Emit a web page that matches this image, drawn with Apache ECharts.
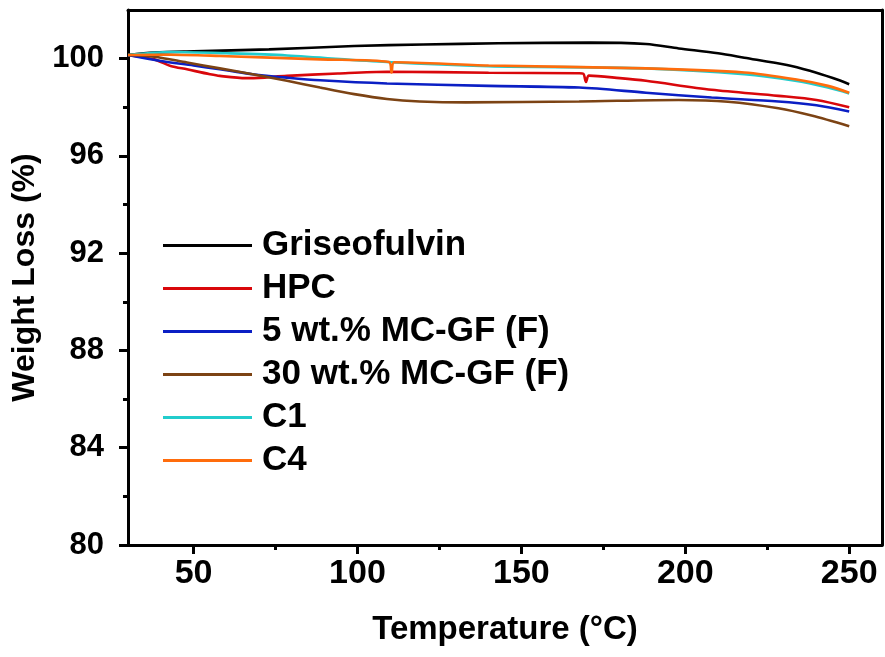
<!DOCTYPE html>
<html>
<head>
<meta charset="utf-8">
<script src="https://cdn.jsdelivr.net/npm/echarts@6/dist/echarts.min.js"></script>
<style>html,body{margin:0;padding:0;background:#fff}#c{width:885px;height:657px}</style>
</head>
<body>
<div id="c"></div>
<script>
var seriesNames = ['Griseofulvin', 'HPC', '5 wt.% MC-GF (F)', '30 wt.% MC-GF (F)', 'C1', 'C4'];
var seriesColors = ['#000000', '#d9070b', '#0b1fc4', '#7c4314', '#22cccc', '#ff6c0c'];

var tGris = [30, 38, 50, 73, 99, 120, 143, 171, 188, 198, 210, 218, 231, 238, 245, 250];
var wGris = [100.15, 100.25, 100.3, 100.38, 100.52, 100.58, 100.63, 100.66, 100.6, 100.42, 100.22, 100.04, 99.74, 99.5, 99.2, 98.95];

var tHPC = [30, 38, 43, 48, 55, 58, 66, 70, 78.5, 94, 109, 140, 167.6, 168.9, 169.7, 170.6, 180, 188, 208, 228.4, 240, 250];
var wHPC = [100.15, 99.97, 99.7, 99.56, 99.36, 99.29, 99.2, 99.21, 99.29, 99.39, 99.46, 99.42, 99.4, 99.38, 99.04, 99.3, 99.2, 99.09, 98.72, 98.47, 98.3, 98.0];

var t5 = [30, 40, 50, 58, 61, 68, 78.5, 88.6, 109, 140, 167.6, 188, 208, 228.4, 240, 250];
var w5 = [100.15, 99.9, 99.72, 99.56, 99.5, 99.36, 99.22, 99.11, 98.98, 98.88, 98.81, 98.6, 98.4, 98.24, 98.08, 97.83];

var t30 = [30, 38, 48, 58, 68, 78.5, 88.6, 99, 109, 119, 133, 167.6, 198, 213, 228.4, 238.5, 250];
var w30 = [100.15, 100.08, 99.84, 99.6, 99.36, 99.09, 98.81, 98.54, 98.34, 98.24, 98.2, 98.24, 98.3, 98.23, 97.96, 97.66, 97.22];

var tC1 = [30, 43, 60, 78.5, 109, 140, 188, 218, 233.5, 243.5, 250];
var wC1 = [100.15, 100.27, 100.22, 100.13, 99.86, 99.69, 99.6, 99.36, 99.09, 98.81, 98.57];

var tC4 = [30, 43, 58, 88.6, 109.6, 110.4, 111.2, 140, 188, 218, 233.5, 243.5, 250];
var wC4 = [100.15, 100.16, 100.11, 99.97, 99.86, 99.43, 99.85, 99.72, 99.6, 99.43, 99.15, 98.88, 98.6];

var xTicks = [50, 100, 150, 200, 250];
var xMinorTicks = [75, 125, 175, 225];
var yTicks = [80, 84, 88, 92, 96, 100];
var yMinorTicks = [82, 86, 90, 94, 98];

function pairs(t, w) { return t.map(function (v, i) { return [v, w[i]]; }); }
var allData = [pairs(tGris, wGris), pairs(tHPC, wHPC), pairs(t5, w5), pairs(t30, w30), pairs(tC1, wC1), pairs(tC4, wC4)];

var FONT = "'Liberation Sans', Arial, sans-serif";
var chart = echarts.init(document.getElementById('c'));
var axisLine = { show: true, lineStyle: { color: '#000', width: 3 } };
chart.setOption({
  animation: false,
  backgroundColor: '#fff',
  grid: { left: 128, right: 3, top: 10, bottom: 112 },
  legend: {
    orient: 'vertical', left: 158, top: 223,
    itemWidth: 89, itemHeight: 14, itemGap: 8,
    icon: 'path://M0,6 L89,6 L89,9 L0,9 Z',
    textStyle: { fontFamily: FONT, fontWeight: 'bold', fontSize: 35, lineHeight: 35, color: '#000', padding: [0, 0, 0, 5] },
    data: seriesNames
  },
  xAxis: [
    { type: 'value', min: 30, max: 260, position: 'bottom',
      name: 'Temperature (°C)', nameLocation: 'middle', nameGap: 68,
      nameTextStyle: { fontFamily: FONT, fontWeight: 'bold', fontSize: 33, color: '#000' },
      axisLine: axisLine,
      axisTick: { show: true, length: 9, lineStyle: { width: 3, color: '#000' }, customValues: xTicks },
      axisLabel: { show: true, margin: 12, fontFamily: FONT, fontWeight: 'bold', fontSize: 34, color: '#000', customValues: xTicks },
      splitLine: { show: false } },
    { type: 'value', min: 30, max: 260, position: 'top',
      axisLine: axisLine, axisTick: { show: false }, axisLabel: { show: false }, splitLine: { show: false } },
    { type: 'value', min: 30, max: 260, position: 'bottom',
      axisLine: { show: false },
      axisTick: { show: true, length: 5, lineStyle: { width: 3, color: '#000' }, customValues: xMinorTicks },
      axisLabel: { show: false }, splitLine: { show: false } }
  ],
  yAxis: [
    { type: 'value', min: 80, max: 102, position: 'left',
      name: 'Weight Loss (%)', nameLocation: 'middle', nameGap: 86,
      nameTextStyle: { fontFamily: FONT, fontWeight: 'bold', fontSize: 32, color: '#000' },
      axisLine: axisLine,
      axisTick: { show: true, length: 9, lineStyle: { width: 3, color: '#000' }, customValues: yTicks },
      axisLabel: { show: true, margin: 24, fontFamily: FONT, fontWeight: 'bold', fontSize: 31, color: '#000', customValues: yTicks },
      splitLine: { show: false } },
    { type: 'value', min: 80, max: 102, position: 'right',
      axisLine: axisLine, axisTick: { show: false }, axisLabel: { show: false }, splitLine: { show: false } },
    { type: 'value', min: 80, max: 102, position: 'left',
      axisLine: { show: false },
      axisTick: { show: true, length: 5, lineStyle: { width: 3, color: '#000' }, customValues: yMinorTicks },
      axisLabel: { show: false }, splitLine: { show: false } }
  ],
  series: seriesNames.map(function (n, i) {
    return {
      name: n, type: 'line', xAxisIndex: 0, yAxisIndex: 0,
      data: allData[i], symbol: 'none', smooth: 0.3,
      lineStyle: { color: seriesColors[i], width: 2.6 },
      itemStyle: { color: seriesColors[i] }
    };
  })
});
</script>
</body>
</html>
